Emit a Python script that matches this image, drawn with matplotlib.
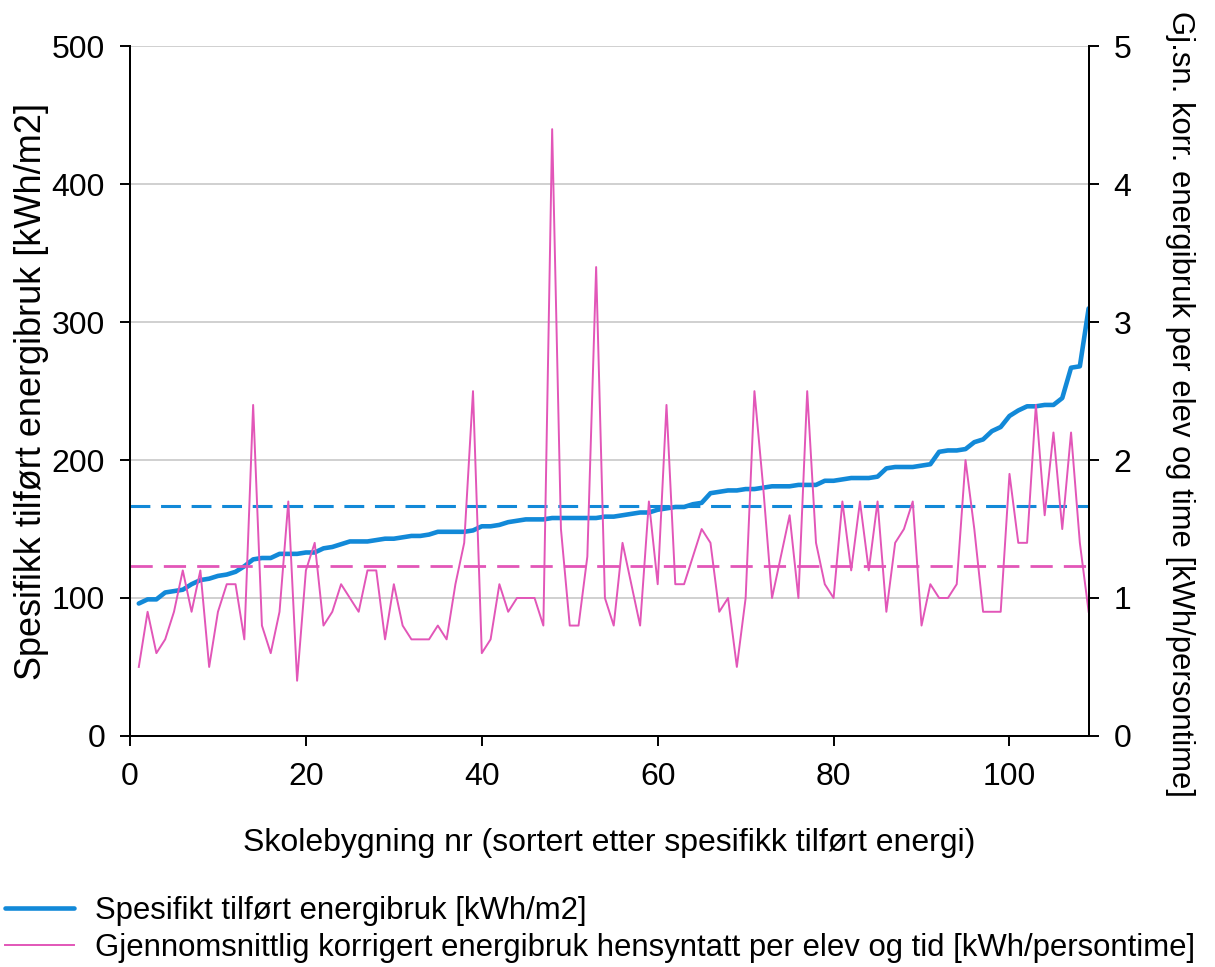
import numpy as np
import matplotlib
matplotlib.use("Agg")
import matplotlib.pyplot as plt

plt.rcParams['font.family'] = ['Liberation Sans', 'DejaVu Sans']

# skolebygning nr 1..109, sortert etter spesifikk tilfoert energi
bygg_nr = np.arange(1, 110)

spesifikk = [96, 99, 99, 104, 105, 106, 110, 113, 114, 116,
             117, 119, 123, 128, 129, 129, 132, 132, 132, 133,
             133, 136, 137, 139, 141, 141, 141, 142, 143, 143,
             144, 145, 145, 146, 148, 148, 148, 148, 149, 152,
             152, 153, 155, 156, 157, 157, 157, 158, 158, 158,
             158, 158, 158, 159, 159, 160, 161, 162, 162, 164,
             165, 166, 166, 168, 169, 176, 177, 178, 178, 179,
             179, 180, 181, 181, 181, 182, 182, 182, 185, 185,
             186, 187, 187, 187, 188, 194, 195, 195, 195, 196,
             197, 206, 207, 207, 208, 213, 215, 221, 224, 232,
             236, 239, 239, 240, 240, 245, 267, 268, 310]

per_elev = [0.5, 0.9, 0.6, 0.7, 0.9, 1.2, 0.9, 1.2, 0.5, 0.9,
            1.1, 1.1, 0.7, 2.4, 0.8, 0.6, 0.9, 1.7, 0.4, 1.2,
            1.4, 0.8, 0.9, 1.1, 1.0, 0.9, 1.2, 1.2, 0.7, 1.1,
            0.8, 0.7, 0.7, 0.7, 0.8, 0.7, 1.1, 1.4, 2.5, 0.6,
            0.7, 1.1, 0.9, 1.0, 1.0, 1.0, 0.8, 4.4, 1.5, 0.8,
            0.8, 1.3, 3.4, 1.0, 0.8, 1.4, 1.1, 0.8, 1.7, 1.1,
            2.4, 1.1, 1.1, 1.3, 1.5, 1.4, 0.9, 1.0, 0.5, 1.0,
            2.5, 1.8, 1.0, 1.3, 1.6, 1.0, 2.5, 1.4, 1.1, 1.0,
            1.7, 1.2, 1.7, 1.2, 1.7, 0.9, 1.4, 1.5, 1.7, 0.8,
            1.1, 1.0, 1.0, 1.1, 2.0, 1.5, 0.9, 0.9, 0.9, 1.9,
            1.4, 1.4, 2.4, 1.6, 2.2, 1.5, 2.2, 1.4, 0.9]

snitt_spesifikk = 167
snitt_per_elev = 1.23

blue = '#1289d8'
pink = '#e256b8'
fs = 23

fig = plt.figure(figsize=(12.15, 9.67), dpi=100)
ax = fig.add_axes([0.107, 0.239, 0.789, 0.713])
ax2 = ax.twinx()

ax.plot(bygg_nr, spesifikk, color=blue, lw=3.3, solid_capstyle='round',
        label='Spesifikt tilført energibruk [kWh/m2]', zorder=3)
ax.axhline(snitt_spesifikk, color=blue, lw=2.2, dashes=(6.5, 3.5), zorder=3)
ax2.plot(bygg_nr, per_elev, color=pink, lw=1.4,
         label='Gjennomsnittlig korrigert energibruk hensyntatt per elev og tid [kWh/persontime]')
ax2.axhline(snitt_per_elev, color=pink, lw=2.0, dashes=(8, 4))

ax.set_xlim(0, 109)
ax.set_ylim(0, 500)
ax2.set_ylim(0, 5)
ax.set_xticks(range(0, 101, 20))
ax.set_yticks(range(0, 501, 100))
ax2.set_yticks(range(0, 6))
ax.yaxis.grid(True, color='#c4c4c4', lw=1.1)
ax.set_axisbelow(True)

for a in (ax, ax2):
    a.spines['top'].set_visible(False)
    for s in ('left', 'right', 'bottom'):
        a.spines[s].set_linewidth(1.4)
    a.tick_params(labelsize=fs, direction='out', length=7, width=1.4, pad=11)
ax.tick_params(axis='x', pad=12)

ax.set_xlabel('Skolebygning nr (sortert etter spesifikk tilført energi)', fontsize=fs, labelpad=26)
ax.set_ylabel('Spesifikk tilført energibruk [kWh/m2]', fontsize=26, labelpad=2)
ax2.set_ylabel('Gj.sn. korr. energibruk per elev og time [kWh/persontime]', fontsize=22.3,
               rotation=270, va='center', ha='center', rotation_mode='anchor')
ax2.yaxis.set_label_coords(1.095, 0.482)

h1, l1 = ax.get_legend_handles_labels()
h2, l2 = ax2.get_legend_handles_labels()
fig.legend(h1 + h2, l1 + l2, loc='lower left', bbox_to_anchor=(-0.006, -0.009),
           borderaxespad=0, frameon=False, fontsize=22.4, handlelength=2.2,
           handletextpad=0.7, labelspacing=0.24)

fig.savefig('out.png', dpi=100)
